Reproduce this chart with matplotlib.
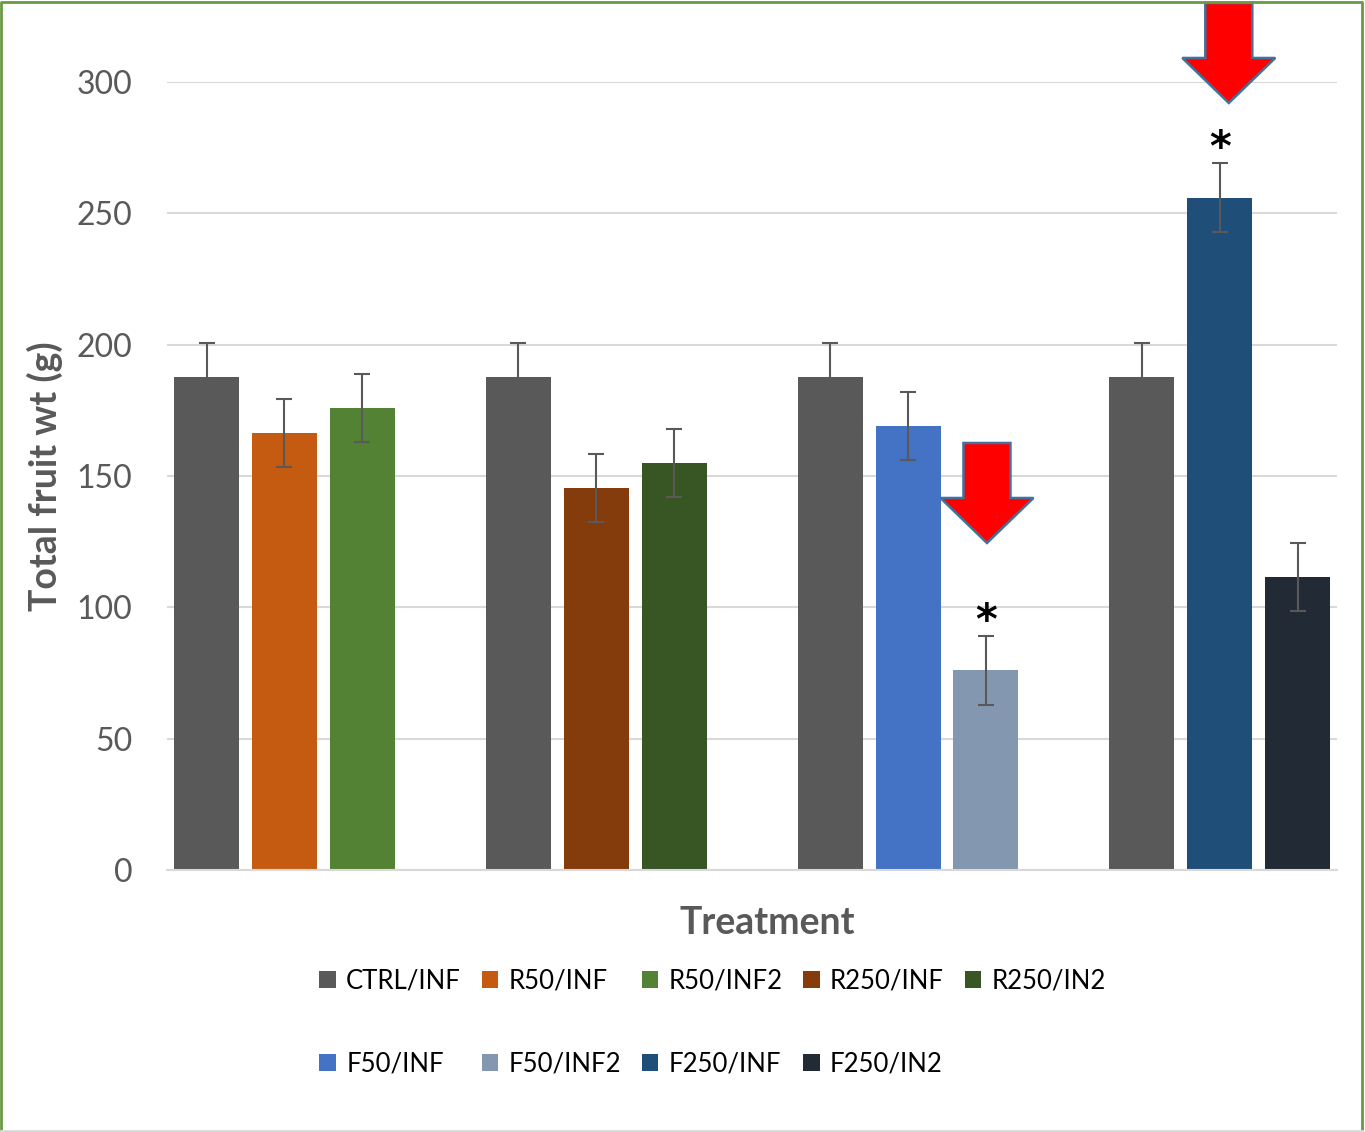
import matplotlib.pyplot as plt
from matplotlib.patches import Polygon
from matplotlib.lines import Line2D
import numpy as np

# groups of three bars: control + two treatments
group_series = [
    ["CTRL/INF", "R50/INF", "R50/INF2"],
    ["CTRL/INF", "R250/INF", "R250/IN2"],
    ["CTRL/INF", "F50/INF", "F50/INF2"],
    ["CTRL/INF", "F250/INF", "F250/IN2"],
]
group_values = [
    [187.5, 166.5, 176.0],
    [187.5, 145.5, 155.0],
    [187.5, 169.0, 76.0],
    [187.5, 256.0, 111.5],
]
group_errors = [
    [13.0, 13.0, 13.0],
    [13.0, 13.0, 13.0],
    [13.0, 13.0, 13.0],
    [13.0, 13.0, 13.0],
]
series_colors = {
    "CTRL/INF": "#595959",
    "R50/INF": "#c55a11",
    "R50/INF2": "#548235",
    "R250/INF": "#843c0c",
    "R250/IN2": "#375623",
    "F50/INF": "#4472c4",
    "F50/INF2": "#8497b0",
    "F250/INF": "#1f4e79",
    "F250/IN2": "#222a35",
}
legend_order = ["CTRL/INF", "R50/INF", "R50/INF2", "R250/INF", "R250/IN2",
                "F50/INF", "F50/INF2", "F250/INF", "F250/IN2"]
# significant bars: (group, bar index, arrow tip value)
marked = [(2, 2, 124.5), (3, 1, 292.0)]

plt.rcParams["font.family"] = ["Lato", "DejaVu Sans"]
grey = "#595959"

fig = plt.figure(figsize=(13.65, 11.32), dpi=100)
ax = fig.add_axes([0.1223, 0.2314, 0.8572, 0.6962])

width = 0.2085
step = 0.25
handles = {}
for g, (names, vals, errs) in enumerate(zip(group_series, group_values, group_errors)):
    for i, (name, v, e) in enumerate(zip(names, vals, errs)):
        x = g + (i - 1) * step
        b = ax.bar(x, v, width=width, color=series_colors[name], zorder=2)
        ax.errorbar(x, v, yerr=e, color=grey, capsize=6, elinewidth=1.5,
                    capthick=1.5, zorder=3)
        handles.setdefault(name, b)

ax.set_xlim(-0.377, 3.376)
ax.set_ylim(0, 300)
ax.set_yticks(np.arange(0, 301, 50))
ax.set_xticks([])
ax.grid(axis="y", color="#d9d9d9", linewidth=1.5, zorder=0)
for s in ["top", "right", "left"]:
    ax.spines[s].set_visible(False)
ax.spines["bottom"].set_color("#d9d9d9")
ax.spines["bottom"].set_linewidth(1.5)
ax.tick_params(axis="y", length=0, labelsize=23, labelcolor=grey, pad=25)

# arrows and asterisks
px_x = 1 / 311.8
px_y = 300 / 788
for g, i, tip in marked:
    x = g + (i - 1) * step
    top = group_values[g][i] + group_errors[g][i]
    ax.text(x, top + 5.5, "*", ha="center", va="center", fontsize=30,
            fontweight="bold", color="black", family="DejaVu Sans")
    ax_ = x + (1 if g == 2 else 9) * px_x
    hw, sw, hh, L = 46.5 * px_x, 23.5 * px_x, 45 * px_y, 100 * px_y
    pts = [(ax_, tip), (ax_ - hw, tip + hh), (ax_ - sw, tip + hh),
           (ax_ - sw, tip + L), (ax_ + sw, tip + L), (ax_ + sw, tip + hh),
           (ax_ + hw, tip + hh)]
    ax.add_patch(Polygon(pts, closed=True, facecolor="#ff0000",
                         edgecolor="#41719c", linewidth=1.8, clip_on=False, zorder=5))

fig.text(0.033, 0.579, "Total fruit wt (g)", rotation=90, ha="center", va="center",
         fontsize=27, fontweight="bold", color=grey)
fig.text(0.562, 0.185, "Treatment", ha="center", va="center",
         fontsize=27, fontweight="bold", color=grey)

# legend filled row by row
order_idx = [0, 5, 1, 6, 2, 7, 3, 8, 4]
lh = [handles[legend_order[k]] for k in order_idx]
ll = [legend_order[k] for k in order_idx]
fig.legend(lh, ll, loc="center", bbox_to_anchor=(0.522, 0.0965), ncol=5,
           frameon=False, fontsize=18.5, handlelength=0.65, handleheight=0.65,
           handletextpad=0.4, columnspacing=0.8, labelspacing=2.25)

# figure border: green on three sides, grey at the bottom
fig.add_artist(Line2D([0.001, 0.001, 0.998, 0.998], [0.0, 0.998, 0.998, 0.0],
                      transform=fig.transFigure, color="#6a9a44", linewidth=2))
fig.add_artist(Line2D([0.001, 0.998], [0.001, 0.001], transform=fig.transFigure,
                      color="#d9d9d9", linewidth=2))

fig.savefig("out.png")
